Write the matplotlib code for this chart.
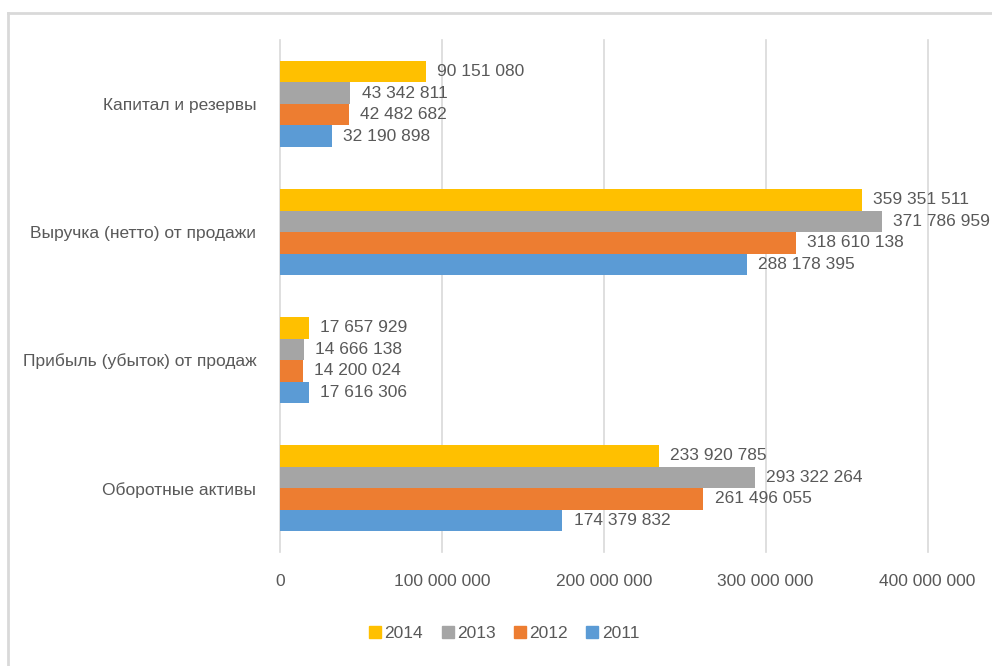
import numpy as np
import matplotlib
matplotlib.use('Agg')
import matplotlib.pyplot as plt
from matplotlib.lines import Line2D

# categories from bottom to top
categories = ['Оборотные активы', 'Прибыль (убыток) от продаж',
              'Выручка (нетто) от продажи', 'Капитал и резервы']
years = ['2011', '2012', '2013', '2014']
v2011 = [174379832, 17616306, 288178395, 32190898]
v2012 = [261496055, 14200024, 318610138, 42482682]
v2013 = [293322264, 14666138, 371786959, 43342811]
v2014 = [233920785, 17657929, 359351511, 90151080]
colors = ['#5B9BD5', '#ED7D31', '#A5A5A5', '#FFC000']
xticks = [0, 100000000, 200000000, 300000000, 400000000]

plt.rcParams['font.family'] = ['Liberation Sans', 'DejaVu Sans']
txt = '#595959'
fs = 12.5

def fmt(v):
    return '{:,}'.format(v).replace(',', ' ')

fig = plt.figure(figsize=(9.92, 6.66), dpi=100)
ax = fig.add_axes([0.2823, 0.171, 0.935 - 0.2823, 0.769])

series = [v2011, v2012, v2013, v2014]
y = np.arange(len(categories))
h = 0.168
for i, (vals, c) in enumerate(zip(series, colors)):
    pos = y + (i - 1.5) * h
    ax.barh(pos, vals, height=h, color=c, zorder=2, label=years[i])
    for p, v in zip(pos, vals):
        ax.text(v + 7000000, p, fmt(v), va='center', ha='left',
                fontsize=fs, color=txt)

ax.set_xlim(0, 400000000)
ax.set_ylim(-0.5, len(categories) - 0.5)
ax.set_xticks(xticks)
ax.set_xticklabels([fmt(t) for t in xticks], fontsize=fs, color=txt)
ax.set_yticks(y)
ax.set_yticklabels(categories, fontsize=fs, color=txt)
ax.tick_params(length=0)
ax.tick_params(axis='x', pad=16)
ax.tick_params(axis='y', pad=17)
ax.grid(axis='x', color='#d9d9d9', linewidth=1.2, zorder=0)
for gl in ax.get_xgridlines():
    gl.set_clip_on(False)
for s in ax.spines.values():
    s.set_visible(False)

handles = [Line2D([], [], marker='s', linestyle='none', markersize=8,
                  color=colors[i]) for i in [3, 2, 1, 0]]
fig.legend(handles, [years[i] for i in [3, 2, 1, 0]], loc='center',
           bbox_to_anchor=(0.507, 0.049), ncol=4, frameon=False,
           fontsize=fs, labelcolor=txt, handletextpad=0.05,
           columnspacing=0.9, handlelength=1.0)

# chart area frame (top and left edges visible)
fig.add_artist(Line2D([8 / 992, 1], [1 - 13 / 666, 1 - 13 / 666],
                      transform=fig.transFigure, color='#d9d9d9', lw=2))
fig.add_artist(Line2D([8 / 992, 8 / 992], [0, 1 - 13 / 666],
                      transform=fig.transFigure, color='#d9d9d9', lw=2))

fig.savefig('out.png', dpi=100)
